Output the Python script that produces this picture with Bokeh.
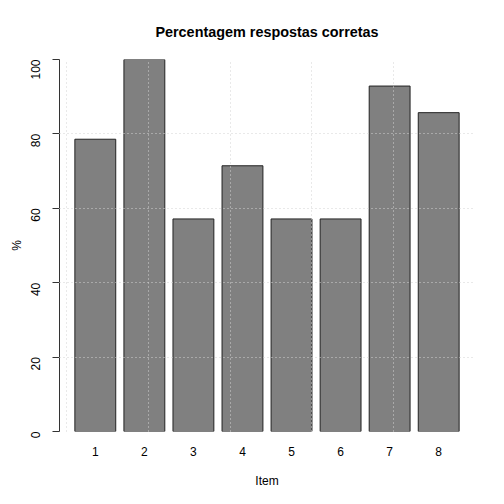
import math
from bokeh.plotting import figure
from bokeh.models import Range1d, FixedTicker, ColumnDataSource
from bokeh.embed import file_html
from bokeh.resources import INLINE

items = ["1", "2", "3", "4", "5", "6", "7", "8"]
percent = [78.57, 100.0, 57.14, 71.43, 57.14, 57.14, 92.86, 85.71]
y_ticks = [0, 20, 40, 60, 80, 100]
x_grid = [0, 2, 4, 6, 8]

# R barplot geometry: width 1, space 0.2
bar_width = 1.0
space = 0.2
centers = [space * (i + 1) + bar_width * i + bar_width / 2 for i in range(len(items))]
x_lo = space
x_hi = space * len(items) + bar_width * len(items)
pad = (x_hi - x_lo) * 0.04

src = ColumnDataSource(dict(x=centers, top=percent))

FONT = "Liberation Sans"

p = figure(width=496, height=496, output_backend="svg", toolbar_location=None,
           x_range=Range1d(x_lo - pad, x_hi + pad), y_range=Range1d(0, 100),
           min_border_left=59, min_border_right=22, min_border_top=59, min_border_bottom=65,
           title="Percentagem respostas corretas")
p.outline_line_color = None
p.background_fill_color = "white"

p.vbar(x="x", top="top", width=bar_width, source=src, fill_color="#808080",
       line_color="#222222", line_width=1)

p.title.align = "center"
p.title.text_font = FONT
p.title.text_font_size = "14.4px"
p.title.text_font_style = "bold"
p.title.text_color = "black"
p.title.standoff = 40

# y axis
p.yaxis.ticker = FixedTicker(ticks=y_ticks)
p.yaxis.major_label_orientation = math.pi / 2
p.yaxis.major_tick_out = 7
p.yaxis.major_tick_in = 0
p.yaxis.minor_tick_out = 0
p.yaxis.minor_tick_in = 0
p.yaxis.axis_line_color = "#333333"
p.yaxis.major_tick_line_color = "#333333"
p.yaxis.major_label_text_font = FONT
p.yaxis.major_label_text_font_size = "12px"
p.yaxis.major_label_text_color = "black"
p.yaxis.major_label_standoff = 17
p.yaxis.axis_label = "%"
p.yaxis.axis_label_text_font = FONT
p.yaxis.axis_label_text_font_size = "12px"
p.yaxis.axis_label_text_font_style = "normal"
p.yaxis.axis_label_text_color = "black"
p.yaxis.axis_label_standoff = 0

# x axis
p.xaxis.ticker = FixedTicker(ticks=centers)
p.xaxis.major_label_overrides = {c: t for c, t in zip(centers, items)}
p.xaxis.axis_line_color = None
p.xaxis.major_tick_line_color = None
p.xaxis.minor_tick_line_color = None
p.xaxis.major_label_text_font = FONT
p.xaxis.major_label_text_font_size = "12px"
p.xaxis.major_label_text_color = "black"
p.xaxis.major_label_standoff = 9
p.xaxis.axis_label = "Item"
p.xaxis.axis_label_text_font = FONT
p.xaxis.axis_label_text_font_size = "12px"
p.xaxis.axis_label_text_font_style = "normal"
p.xaxis.axis_label_text_color = "black"
p.xaxis.axis_label_standoff = 15

# grids (drawn over bars, as in R's grid())
p.xgrid.ticker = FixedTicker(ticks=x_grid)
p.ygrid.ticker = FixedTicker(ticks=y_ticks)
for g in (p.xgrid, p.ygrid):
    g.grid_line_color = "#D3D3D3"
    g.grid_line_dash = "1 3"
    g.grid_line_width = 1
    g.level = "overlay"

open("out.html", "w").write(file_html(p, INLINE))
